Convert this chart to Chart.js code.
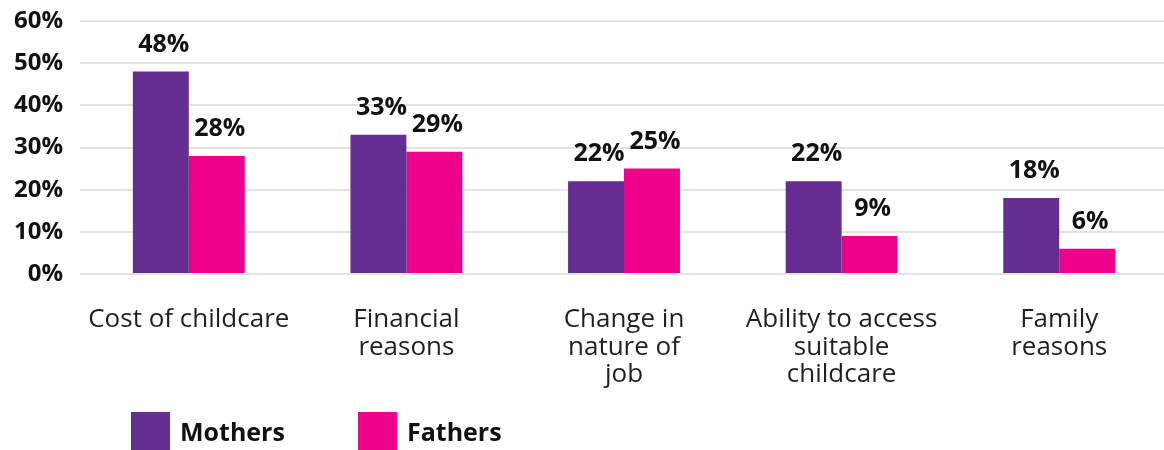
<!DOCTYPE html>
<html>
<head>
<meta charset="utf-8">
<script src="https://cdn.jsdelivr.net/npm/chart.js@4"></script>
<style>
    body { margin: 0; background: #fff; overflow: hidden; font-family: "Open Sans", sans-serif; }
    .wrap { position: relative; width: 1168px; height: 450px; }
    .legend { position: absolute; top: 412px; left: 0; height: 40px; }
    .item { position: absolute; top: 0; display: flex; align-items: center; }
    .swatch { width: 39px; height: 38px; }
    .item span { font-weight: bold; font-size: 25px; color: #111; margin-left: 10px; }
</style>
</head>
<body>
<div class="wrap">
    <canvas id="myChart"></canvas>
    <div class="legend" id="legend"></div>
</div>
<script>
let categories = [
    'Cost of childcare',
    ['Financial', 'reasons'],
    ['Change in', 'nature of', 'job'],
    ['Ability to access', 'suitable', 'childcare'],
    ['Family', 'reasons']
];
let mothers = [48, 33, 22, 22, 18];
let fathers = [28, 29, 25, 9, 6];
let yTicks = [0, 10, 20, 30, 40, 50, 60];

let purple = '#662d91';
let pink = '#ec008c';

// labels over every bar
let barLabels = {
    id: 'barLabels',
    afterDatasetsDraw(chart) {
        let ctx = chart.ctx;
        ctx.save();
        ctx.font = 'bold 25px "Open Sans"';
        ctx.fillStyle = '#111';
        ctx.textAlign = 'center';
        ctx.textBaseline = 'middle';
        chart.data.datasets.forEach((ds, i) => {
            chart.getDatasetMeta(i).data.forEach((bar, j) => {
                ctx.fillText(ds.data[j] + '%', bar.x + 3, bar.y - 27);
            });
        });
        ctx.restore();
    }
};

let ctx = document.getElementById('myChart').getContext('2d');
let myChart = new Chart(ctx, {
    type: 'bar',
    data: {
        labels: categories,
        datasets: [{
            label: 'Mothers',
            data: mothers,
            backgroundColor: purple,
            categoryPercentage: 0.514,
            barPercentage: 1
        }, {
            label: 'Fathers',
            data: fathers,
            backgroundColor: pink,
            categoryPercentage: 0.514,
            barPercentage: 1
        }]
    },
    options: {
        responsive: true,
        maintainAspectRatio: false,
        animation: false,
        layout: { padding: { top: 21, left: 0, right: 0, bottom: 0 } },
        scales: {
            x: {
                grid: { display: false },
                border: { display: false },
                ticks: {
                    color: '#231f20',
                    padding: 24,
                    maxRotation: 0,
                    font: { family: 'Open Sans', size: 26, lineHeight: 1.06 }
                },
                afterFit: s => {
                    s.height = 176;
                    s.paddingTop = 0;
                    s.paddingBottom = 0;
                }
            },
            y: {
                min: 0,
                max: 60,
                afterBuildTicks: s => { s.ticks = yTicks.map(v => ({ value: v })); },
                grid: { color: '#e2e2e2', lineWidth: 2, drawTicks: false },
                border: { display: false },
                ticks: {
                    color: '#111',
                    padding: 17,
                    font: { family: 'Open Sans', size: 24, weight: 'bold' },
                    callback: v => v + '%'
                },
                afterFit: s => {
                    s.width = 80;
                    s.paddingTop = 0;
                    s.paddingBottom = 0;
                }
            }
        },
        plugins: {
            legend: { display: false },
            tooltip: { enabled: false }
        }
    },
    plugins: [barLabels]
});

// legend made from the datasets
let legendLeft = [131, 358];
let legendBox = document.getElementById('legend');
myChart.data.datasets.forEach((ds, i) => {
    let item = document.createElement('div');
    item.className = 'item';
    item.style.left = legendLeft[i] + 'px';
    item.innerHTML = `<div class="swatch" style="background:${ds.backgroundColor}"></div><span>${ds.label}</span>`;
    legendBox.appendChild(item);
});
</script>
</body>
</html>
